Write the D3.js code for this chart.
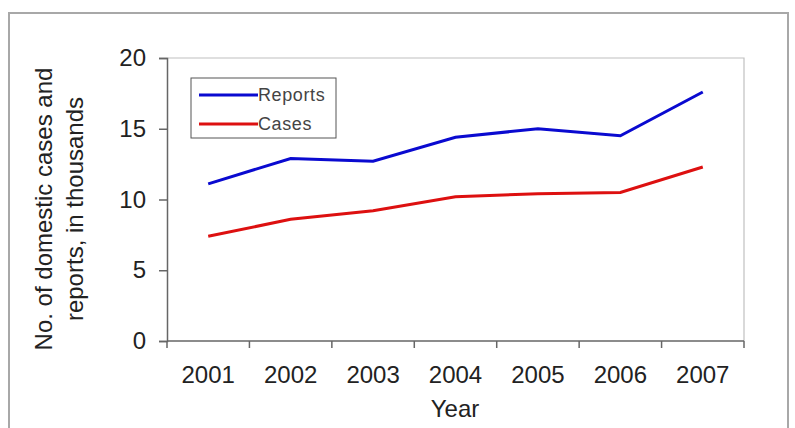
<!DOCTYPE html>
<html>
<head>
<meta charset="utf-8">
<script src="https://cdn.jsdelivr.net/npm/d3@7"></script>
<style>
  body { margin: 0; background: #fff; }
  svg { font-family: "Liberation Sans", Arial, sans-serif; }
</style>
</head>
<body>
<svg id="chart" width="795" height="428"></svg>
<script>
// chart data
const years = ["2001", "2002", "2003", "2004", "2005", "2006", "2007"];
const reports = [11.1, 12.9, 12.7, 14.4, 15.0, 14.5, 17.6];
const cases = [7.4, 8.6, 9.2, 10.2, 10.4, 10.5, 12.3];
const yTicks = [0, 5, 10, 15, 20];

const svg = d3.select("#chart");

// outer frame
svg.append("rect")
  .attr("x", 9).attr("y", 13)
  .attr("width", 779).attr("height", 430)
  .attr("fill", "none")
  .attr("stroke", "#a8a8a8")
  .attr("stroke-width", 2);

const plot = { left: 167, top: 58, right: 744, bottom: 341 };

const x = d3.scaleBand()
  .domain(years)
  .range([plot.left, plot.right]);

const y = d3.scaleLinear()
  .domain([0, 20])
  .range([plot.bottom, plot.top]);

// plot area border (top/right light grey)
svg.append("path")
  .attr("d", `M${plot.left},${plot.top}H${plot.right}V${plot.bottom}`)
  .attr("fill", "none")
  .attr("stroke", "#c0c0c0")
  .attr("stroke-width", 1.2);

// y axis
const yAxis = svg.append("g")
  .attr("transform", `translate(${plot.left},0)`)
  .call(d3.axisLeft(y).tickValues(yTicks).tickSize(8).tickPadding(13));
yAxis.select(".domain").attr("stroke", "#666").attr("stroke-width", 1.5);
yAxis.selectAll(".tick line").attr("stroke", "#666").attr("stroke-width", 1.5);
yAxis.selectAll("text")
  .attr("fill", "#222")
  .style("font-size", "24px")
  .attr("font-family", "Liberation Sans, Arial, sans-serif");

// x axis with ticks between categories
const xAxis = svg.append("g")
  .attr("transform", `translate(0,${plot.bottom})`);
xAxis.append("line")
  .attr("x1", plot.left).attr("x2", plot.right)
  .attr("stroke", "#666").attr("stroke-width", 1.5);
const bounds = years.map(d => x(d)).concat([plot.right]);
xAxis.selectAll("line.tk")
  .data(bounds)
  .enter().append("line")
  .attr("class", "tk")
  .attr("x1", d => d).attr("x2", d => d)
  .attr("y1", 0).attr("y2", 7)
  .attr("stroke", "#666").attr("stroke-width", 1.5);
xAxis.selectAll("text")
  .data(years)
  .enter().append("text")
  .attr("x", d => x(d) + x.bandwidth() / 2)
  .attr("y", 42)
  .attr("text-anchor", "middle")
  .attr("fill", "#222")
  .style("font-size", "24px")
  .text(d => d);

// axis titles
svg.append("text")
  .attr("x", 455).attr("y", 417)
  .attr("text-anchor", "middle")
  .attr("fill", "#222")
  .style("font-size", "24px")
  .text("Year");

const yTitle = svg.append("text")
  .attr("transform", "translate(0,209) rotate(-90)")
  .attr("text-anchor", "middle")
  .attr("fill", "#222")
  .style("font-size", "24px");
yTitle.append("tspan").attr("x", 0).attr("y", 52).text("No. of domestic cases and");
yTitle.append("tspan").attr("x", 0).attr("y", 83).text("reports, in thousands");

// lines
const line = d3.line()
  .x((d, i) => x(years[i]) + x.bandwidth() / 2)
  .y(d => y(d));

svg.append("path")
  .datum(reports)
  .attr("d", line)
  .attr("fill", "none")
  .attr("stroke", "#0a0ad0")
  .attr("stroke-width", 3);

svg.append("path")
  .datum(cases)
  .attr("d", line)
  .attr("fill", "none")
  .attr("stroke", "#dd1010")
  .attr("stroke-width", 3);

// legend
const legend = svg.append("g").attr("transform", "translate(191,78)");
legend.append("rect")
  .attr("width", 145).attr("height", 60)
  .attr("fill", "#fff")
  .attr("stroke", "#555")
  .attr("stroke-width", 1);
const legendItems = [
  { name: "Reports", color: "#0a0ad0" },
  { name: "Cases", color: "#dd1010" }
];
legendItems.forEach((d, i) => {
  const gy = 17 + i * 29;
  legend.append("line")
    .attr("x1", 8).attr("x2", 67)
    .attr("y1", gy).attr("y2", gy)
    .attr("stroke", d.color)
    .attr("stroke-width", 3);
  legend.append("text")
    .attr("x", 67).attr("y", gy + 6)
    .attr("fill", "#444")
    .style("font-size", "18px")
    .style("letter-spacing", "0.6px")
    .text(d.name);
});
</script>
</body>
</html>
